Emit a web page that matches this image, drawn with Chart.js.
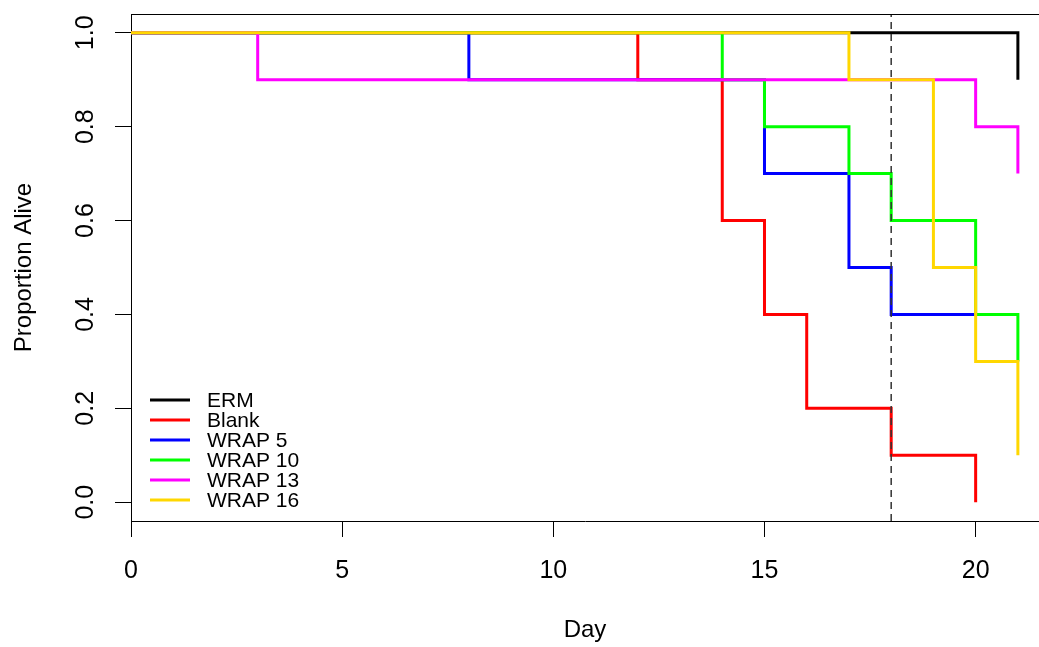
<!DOCTYPE html>
<html>
<head>
<meta charset="utf-8">
<script src="https://cdn.jsdelivr.net/npm/chart.js@4.4.0/dist/chart.umd.min.js"></script>
<style>
  html, body { margin: 0; padding: 0; background: #fff; }
</style>
</head>
<body>
<canvas id="survChart" width="1039" height="647"></canvas>
<script>
// survival (proportion alive) by day, one step curve per treatment
const seriesNames = ['ERM', 'Blank', 'WRAP 5', 'WRAP 10', 'WRAP 13', 'WRAP 16'];
const seriesColors = ['#000000', '#FF0000', '#0000FF', '#00FF00', '#FF00FF', '#FFD700'];

const ermDays = [0, 21];
const ermAlive = [1.0, 0.9];
const blankDays = [0, 12, 14, 15, 16, 18, 20];
const blankAlive = [1.0, 0.9, 0.6, 0.4, 0.2, 0.1, 0.0];
const wrap5Days = [0, 8, 15, 17, 18, 21];
const wrap5Alive = [1.0, 0.9, 0.7, 0.5, 0.4, 0.4];
const wrap10Days = [0, 14, 15, 17, 18, 20, 21];
const wrap10Alive = [1.0, 0.9, 0.8, 0.7, 0.6, 0.4, 0.3];
const wrap13Days = [0, 3, 20, 21];
const wrap13Alive = [1.0, 0.9, 0.8, 0.7];
const wrap16Days = [0, 17, 19, 20, 21];
const wrap16Alive = [1.0, 0.9, 0.5, 0.3, 0.1];

const cutoffDay = 18;

const xTicks = [0, 5, 10, 15, 20];
const xTickLabels = ['0', '5', '10', '15', '20'];
const yTicks = [0, 0.2, 0.4, 0.6, 0.8, 1.0];
const yTickLabels = ['0.0', '0.2', '0.4', '0.6', '0.8', '1.0'];
const xLimits = [0, 21.5];
const yLimits = [-0.04, 1.04];

const allDays = [ermDays, blankDays, wrap5Days, wrap10Days, wrap13Days, wrap16Days];
const allAlive = [ermAlive, blankAlive, wrap5Alive, wrap10Alive, wrap13Alive, wrap16Alive];

Chart.defaults.font.family = "'Liberation Sans', Arial, sans-serif";
Chart.defaults.color = '#000';

const datasets = seriesNames.map((name, i) => ({
  label: name,
  data: allDays[i].map((d, j) => ({ x: d, y: allAlive[i][j] })),
  borderColor: seriesColors[i],
  borderWidth: 3,
  stepped: 'before',  // hold the level, then drop at the next day
  pointRadius: 0,
  fill: false,
  order: seriesNames.length - i  // later series drawn on top
}));

datasets.push({
  label: 'cutoff',
  data: [{ x: cutoffDay, y: yLimits[0] }, { x: cutoffDay, y: yLimits[1] }],
  borderColor: '#333',
  borderWidth: 1.5,
  borderDash: [7, 5],
  pointRadius: 0,
  fill: false,
  order: 0
});

// top edge of the plot box and the legend in the lower left
const boxAndLegend = {
  id: 'boxAndLegend',
  afterDraw(chart) {
    const { ctx, chartArea } = chart;
    ctx.save();
    ctx.strokeStyle = '#000';
    ctx.lineWidth = 1;
    ctx.beginPath();
    const top = Math.round(chartArea.top) + 0.5;
    ctx.moveTo(chartArea.left, top);
    ctx.lineTo(chartArea.right, top);
    ctx.stroke();

    ctx.font = "21px 'Liberation Sans', Arial, sans-serif";
    ctx.textBaseline = 'middle';
    ctx.textAlign = 'left';
    seriesNames.forEach((name, i) => {
      const y = 400 + i * 20;
      ctx.strokeStyle = seriesColors[i];
      ctx.lineWidth = 3;
      ctx.beginPath();
      ctx.moveTo(150, y);
      ctx.lineTo(190, y);
      ctx.stroke();
      ctx.fillStyle = '#000';
      ctx.fillText(name, 207, y + 1);
    });
    ctx.restore();
  }
};

new Chart(document.getElementById('survChart'), {
  type: 'line',
  data: { datasets },
  options: {
    responsive: false,
    devicePixelRatio: 1,
    animation: false,
    layout: { padding: { top: 14, left: 0, right: 0, bottom: 0 } },
    plugins: {
      legend: { display: false },
      tooltip: { enabled: false }
    },
    scales: {
      x: {
        type: 'linear',
        min: xLimits[0],
        max: xLimits[1],
        afterBuildTicks: s => { s.ticks = xTicks.map(v => ({ value: v })); },
        afterFit: s => { s.height = 126; s.paddingLeft = 0; s.paddingRight = 0; },
        ticks: {
          autoSkip: false,
          maxRotation: 0,
          padding: 19,
          font: { size: 25 },
          callback: (v) => xTickLabels[xTicks.indexOf(v)]
        },
        grid: { drawOnChartArea: false, drawTicks: true, tickLength: 16, color: '#000' },
        border: { display: true, color: '#000', width: 1 },
        title: { display: true, text: 'Day', font: { size: 24 }, padding: { top: 0, bottom: 2 } }
      },
      y: {
        type: 'linear',
        min: yLimits[0],
        max: yLimits[1],
        afterBuildTicks: s => { s.ticks = yTicks.map(v => ({ value: v })); },
        afterFit: s => { s.width = 131; s.paddingTop = 0; s.paddingBottom = 0; },
        ticks: {
          autoSkip: false,
          minRotation: 90,
          maxRotation: 90,
          crossAlign: 'center',
          padding: 12,
          font: { size: 25 },
          callback: (v) => yTickLabels[yTicks.indexOf(v)]
        },
        grid: { drawOnChartArea: false, drawTicks: true, tickLength: 16, color: '#000' },
        border: { display: true, color: '#000', width: 1 },
        title: { display: true, text: 'Proportion Alive', font: { size: 24 }, padding: { top: 10, bottom: 0 } }
      }
    }
  },
  plugins: [boxAndLegend]
});
</script>
</body>
</html>
